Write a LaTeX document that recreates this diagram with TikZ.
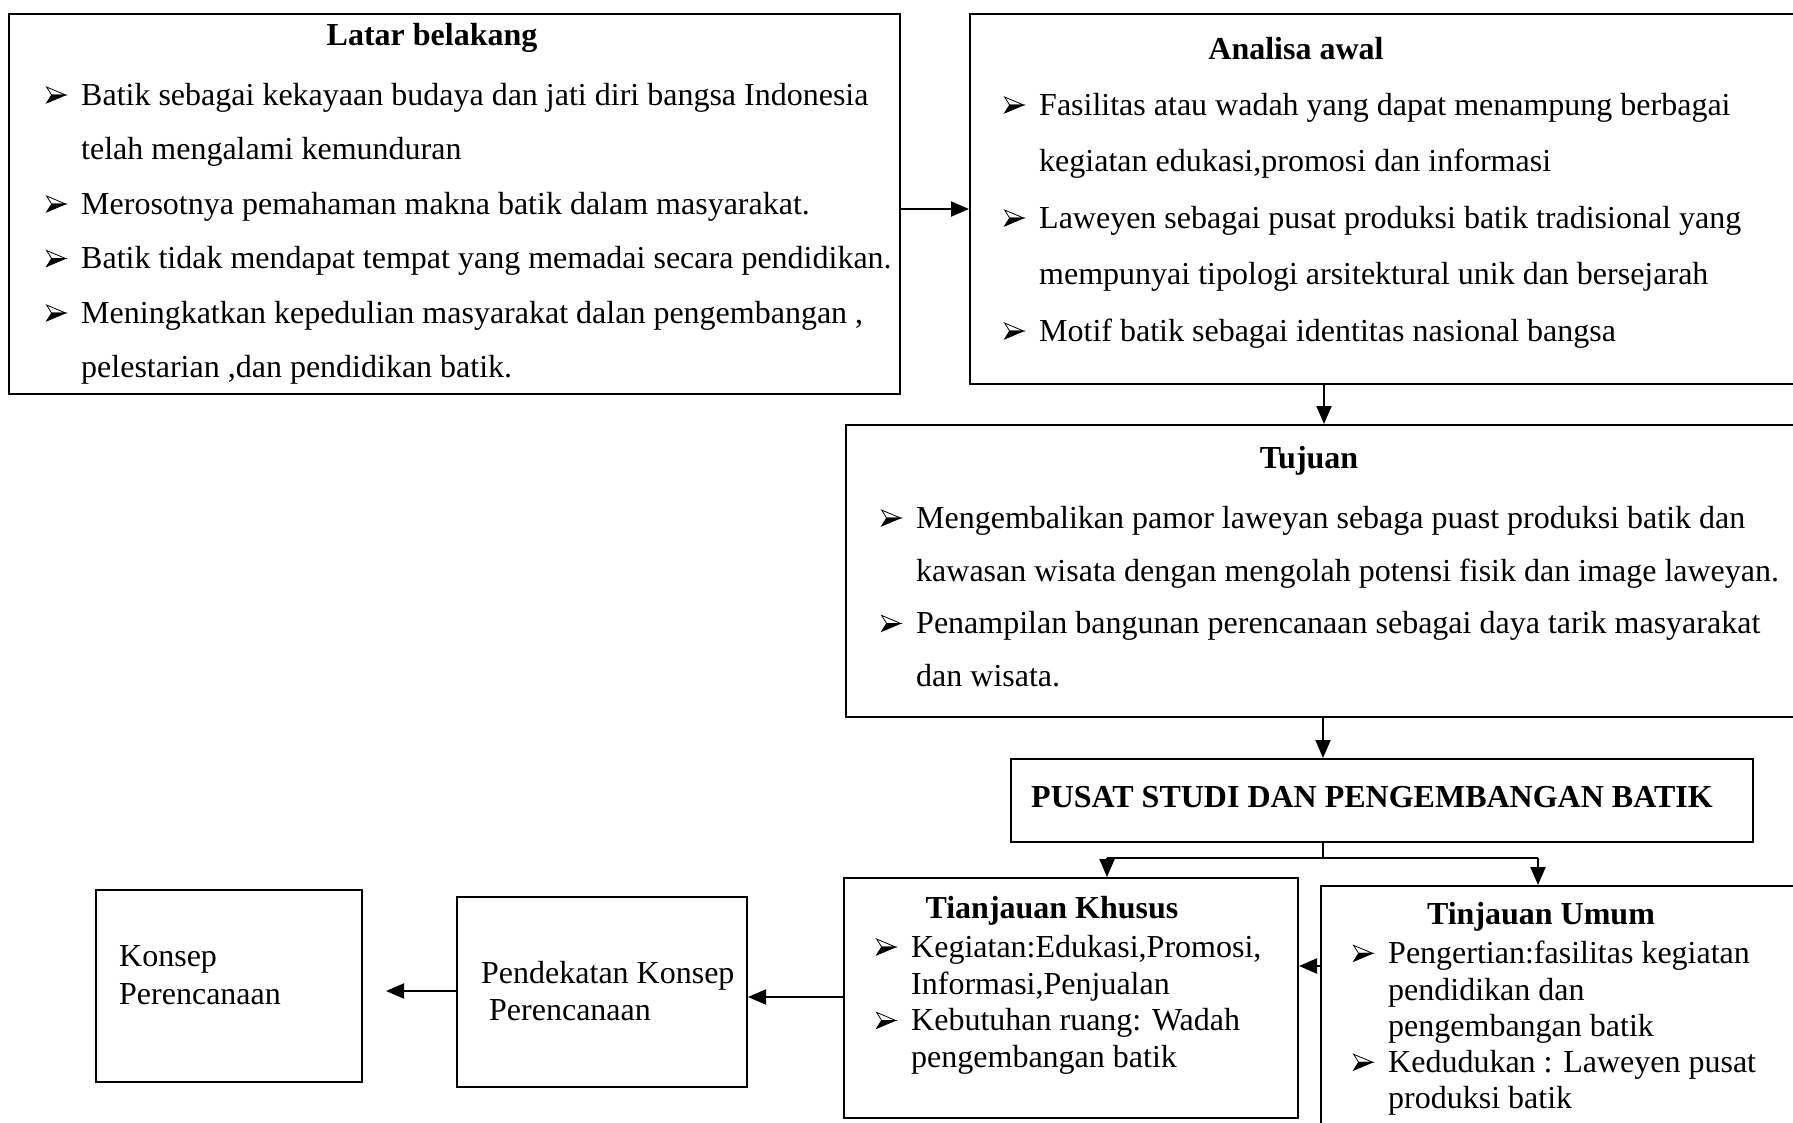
\documentclass[tikz,border=0pt]{standalone}
\usepackage{fontspec}
\setmainfont{Liberation Serif}
\usetikzlibrary{arrows.meta,fit}
\newsavebox\bulbox
\AtBeginDocument{\sbox\bulbox{\begin{pgfpicture}%
  \pgfsetlinewidth{0.8pt}\pgfsetmiterjoin
  \pgfpathmoveto{\pgfpoint{0pt}{16pt}}\pgfpathlineto{\pgfpoint{19pt}{8pt}}\pgfpathlineto{\pgfpoint{5pt}{8pt}}\pgfpathclose
  \pgfusepath{stroke}%
  \pgfpathmoveto{\pgfpoint{0pt}{0pt}}\pgfpathlineto{\pgfpoint{19pt}{8pt}}\pgfpathlineto{\pgfpoint{5pt}{8pt}}\pgfpathclose
  \pgfusepath{fill,stroke}%
\end{pgfpicture}}}
\newcommand\bul{\makebox[35pt][l]{\raisebox{2pt}{\usebox\bulbox}}}
\newcommand\ind{\hspace*{35pt}}
\tikzset{
  box/.style={draw, line width=2pt, inner sep=0pt},
  arr/.style={line width=2pt, -{Triangle[length=18pt,width=15pt]}},
  ttl/.style={inner sep=0pt, font=\fontsize{32}{38}\selectfont\bfseries},
  body/.style={inner sep=0pt, anchor=north west, align=left},
}
\begin{document}
\begin{tikzpicture}[x=1pt,y=-1pt]
\useasboundingbox (0,0) rectangle (1793,1122);
\clip (0,0) rectangle (1793,1122);
% boxes
\node[box, fit={(9,14)(900,394)}] (latar) {};
\node[box, fit={(970,14)(1815,384)}] (analisa) {};
\node[box, fit={(846,425)(1815,717)}] (tujuan) {};
\node[box, fit={(1011,759)(1753,842)}] (pusat) {};
\node[box, fit={(844,878)(1298,1118)}] (khusus) {};
\node[box, fit={(1321,886)(1815,1140)}] (umum) {};
\node[box, fit={(457,897)(747,1087)}] (pendekatan) {};
\node[box, fit={(96,890)(362,1082)}] (konsep) {};
% titles
\node[ttl] (latarT) at (432,38) {Latar belakang};
\node[ttl] (analisaT) at (1296,49) {Analisa awal};
\node[ttl] (tujuanT) at (1309,461) {Tujuan};
\node[ttl] (pusatT) at (1372,797) {PUSAT STUDI DAN PENGEMBANGAN BATIK};
\node[ttl] (khususT) at (1052,911) {Tianjauan Khusus};
\node[ttl] (umumT) at (1541,917) {Tinjauan Umum};
% bodies
\node[body, font=\fontsize{32}{54.5}\selectfont] (latarB) at (46,83) {%
\bul Batik sebagai kekayaan budaya dan jati diri bangsa Indonesia\\
\ind telah mengalami kemunduran\\
\bul Merosotnya pemahaman makna batik dalam masyarakat.\\
\bul Batik tidak mendapat tempat yang memadai secara pendidikan.\\
\bul Meningkatkan kepedulian masyarakat dalan pengembangan ,\\
\ind pelestarian ,dan pendidikan batik.};
\node[body, font=\fontsize{32}{56.5}\selectfont] (analisaB) at (1004,93) {%
\bul Fasilitas atau wadah yang dapat menampung berbagai\\
\ind kegiatan edukasi,promosi dan informasi\\
\bul Laweyen sebagai pusat produksi batik tradisional yang\\
\ind mempunyai tipologi arsitektural unik dan bersejarah\\
\bul Motif batik sebagai identitas nasional bangsa};
\node[body, font=\fontsize{32}{52.7}\selectfont] (tujuanB) at (881,506) {%
\bul Mengembalikan pamor laweyan sebaga puast produksi batik dan\\
\ind kawasan wisata dengan mengolah potensi fisik dan image laweyan.\\
\bul Penampilan bangunan perencanaan sebagai daya tarik masyarakat\\
\ind dan wisata.};
\node[body, font=\fontsize{32}{36.7}\selectfont] (khususB) at (876,935) {%
\bul Kegiatan:Edukasi,Promosi,\\
\ind Informasi,Penjualan\\
\bul Kebutuhan ruang: Wadah\\
\ind pengembangan batik};
\node[body, font=\fontsize{32}{36.3}\selectfont] (umumB) at (1353,941) {%
\bul Pengertian:fasilitas kegiatan\\
\ind pendidikan dan\\
\ind pengembangan batik\\
\bul Kedudukan : Laweyen pusat\\
\ind produksi batik};
\node[body, font=\fontsize{32}{37}\selectfont] (pendekatanB) at (481,961) {%
Pendekatan Konsep\\
\hspace*{8pt}Perencanaan};
\node[body, font=\fontsize{32}{38}\selectfont] (konsepB) at (119,945) {%
Konsep\\
Perencanaan};
% connectors
\draw[arr] (latar.east |- 0,209) -- (analisa.west |- 0,209);
\draw[arr] (analisa.south -| 1324,0) -- (tujuan.north -| 1324,0);
\draw[arr] (tujuan.south -| 1323,0) -- (pusat.north -| 1323,0);
\coordinate (split) at (1323,858);
\coordinate (sl) at (1107,858);
\coordinate (sr) at (1538,858);
\draw[line width=2pt] (pusat.south -| split) -- (split);
\draw[line width=2pt] (sl) -- (sr);
\draw[arr] (sl) -- (khusus.north -| sl);
\draw[arr] (sr) -- (umum.north -| sr);
\draw[arr] (umum.west |- 0,966) -- (khusus.east |- 0,966);
\draw[arr] (khusus.west |- 0,997) -- (pendekatan.east |- 0,997);
\draw[arr, shorten >=23pt] (pendekatan.west |- 0,991) -- (konsep.east |- 0,991);
\end{tikzpicture}
\end{document}
